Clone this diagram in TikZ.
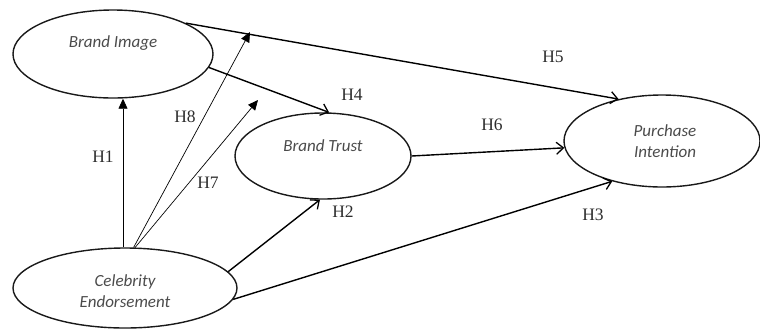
\documentclass[tikz,border=0pt]{standalone}
\usepackage{fontspec}
\setmainfont{Liberation Serif}
\newfontfamily\nodefont{Carlito}
\usetikzlibrary{shapes.geometric,arrows.meta}
\definecolor{txtgray}{RGB}{75,75,75}
\definecolor{lblgray}{RGB}{45,45,45}
\tikzset{
  construct/.style={draw=black!90, line width=1.4pt, ellipse, inner sep=0pt},
  ctext/.style={font=\nodefont\itshape\fontsize{17}{21}\selectfont, text=txtgray, align=center},
  hyp/.style={font=\fontsize{17.5}{20}\selectfont, text=lblgray},
  thickarrow/.style={line width=1.4pt, -{Straight Barb[length=7pt,width=12pt,line width=1.3pt]}},
  thinarrow/.style={line width=0.7pt, -{Triangle[length=10pt,width=9pt]}}
}
\begin{document}
\begin{tikzpicture}[x=1pt,y=-1pt]
\useasboundingbox (0,0) rectangle (760,330);
% constructs
\node[construct, minimum width=200pt, minimum height=88pt,
      label={[ctext, yshift=11pt]center:Brand Image}] (bi) at (113,54) {};
\node[construct, minimum width=176pt, minimum height=86pt,
      label={[ctext, yshift=10pt]center:Brand Trust}] (bt) at (323,156) {};
\node[construct, minimum width=196pt, minimum height=92pt,
      label={[ctext, xshift=3pt]center:Purchase\\Intention}] (pi) at (662,141) {};
\node[construct, minimum width=224pt, minimum height=80pt,
      label={[ctext, yshift=-3pt]center:Celebrity\\Endorsement}] (ce) at (125,288) {};
% free ends of the moderation arrows
\coordinate (h8end) at (250,32);
\coordinate (h7end) at (258,100);
% connectors
\draw[thinarrow] (ce.north) ++(-2pt,0) coordinate (h1start) -- (h1start |- bi.south);
\draw[thinarrow] (ce.78) -- (h8end);
\draw[thinarrow] (ce.76) -- (h7end);
\draw[thickarrow] (bi.-8) -- (bt.82);
\draw[thickarrow] (bi.23) -- (pi.136);
\draw[thickarrow] (bt.east) -- (pi.184);
\draw[thickarrow] (ce.9) -- (bt.266);
\draw[thickarrow] (ce.-6) -- (pi.219);
% labels
\node[hyp] (l1) at (103,157) {H1};
\node[hyp] (l8) at (185,117) {H8};
\node[hyp] (l7) at (208,183) {H7};
\node[hyp] (l4) at (352,95) {H4};
\node[hyp] (l5) at (553,57) {H5};
\node[hyp] (l6) at (492,125) {H6};
\node[hyp] (l2) at (343,212) {H2};
\node[hyp] (l3) at (593,215) {H3};
\end{tikzpicture}
\end{document}
